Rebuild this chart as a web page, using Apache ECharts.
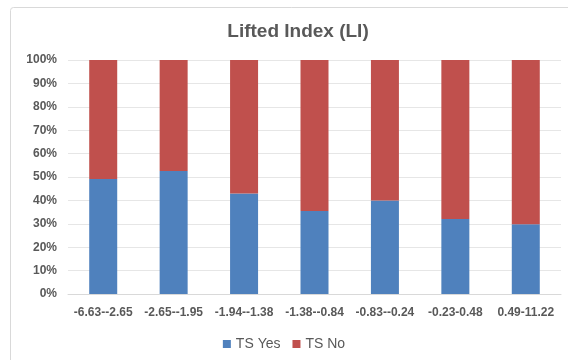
<!DOCTYPE html>
<html><head><meta charset="utf-8">
<script src="https://cdn.jsdelivr.net/npm/echarts@6/dist/echarts.min.js"></script>
<style>html,body{margin:0;padding:0;background:#fff}#c{width:568px;height:360px}</style>
</head><body><div id="c"></div>
<script>
const categories = ["-6.63--2.65","-2.65--1.95","-1.94--1.38","-1.38--0.84","-0.83--0.24","-0.23-0.48","0.49-11.22"];
const tsYes = [49.1, 52.6, 43.0, 35.5, 40.0, 32.1, 29.8];
const tsNo = tsYes.map(v => +(100 - v).toFixed(1));
const chart = echarts.init(document.getElementById('c'));
chart.setOption({
  animation: false,
  backgroundColor: '#fff',
  graphic: [{type:'rect', shape:{x:10.5,y:7.5,width:570,height:360,r:3}, style:{fill:'none', stroke:'#d9d9d9', lineWidth:1}, z:-1}],
  title: {text:'Lifted Index (LI)', left:293, top:17, textAlign:'center',
    textStyle:{fontFamily:'Liberation Sans, Arial', fontSize:19, fontWeight:'bold', color:'#595959'}},
  legend: {bottom:4, left:'center', itemWidth:8, itemHeight:8, itemGap:12, icon:'rect',
    textStyle:{fontFamily:'Liberation Sans, Arial', fontSize:14, color:'#595959'},
    data:['TS Yes','TS No']},
  grid: {left:68, right:7, top:60, bottom:66},
  xAxis: {type:'category', data:categories,
    axisLine:{lineStyle:{color:'#d9d9d9'}}, axisTick:{show:false},
    axisLabel:{fontFamily:'Liberation Sans, Arial', fontSize:12, fontWeight:'bold', color:'#595959', margin:13, interval:0}},
  yAxis: {type:'value', min:0, max:100, interval:10,
    axisLabel:{formatter:'{value}%', fontFamily:'Liberation Sans, Arial', fontSize:12, fontWeight:'bold', color:'#595959', margin:11},
    axisLine:{show:false}, axisTick:{show:false},
    splitLine:{lineStyle:{color:'#e6e6e6'}}},
  series: [
    {name:'TS Yes', type:'bar', stack:'s', data:tsYes, barWidth:28, itemStyle:{color:'#4f81bd'}},
    {name:'TS No', type:'bar', stack:'s', data:tsNo, barWidth:28, itemStyle:{color:'#c0504d'}}
  ]
});
</script></body></html>
